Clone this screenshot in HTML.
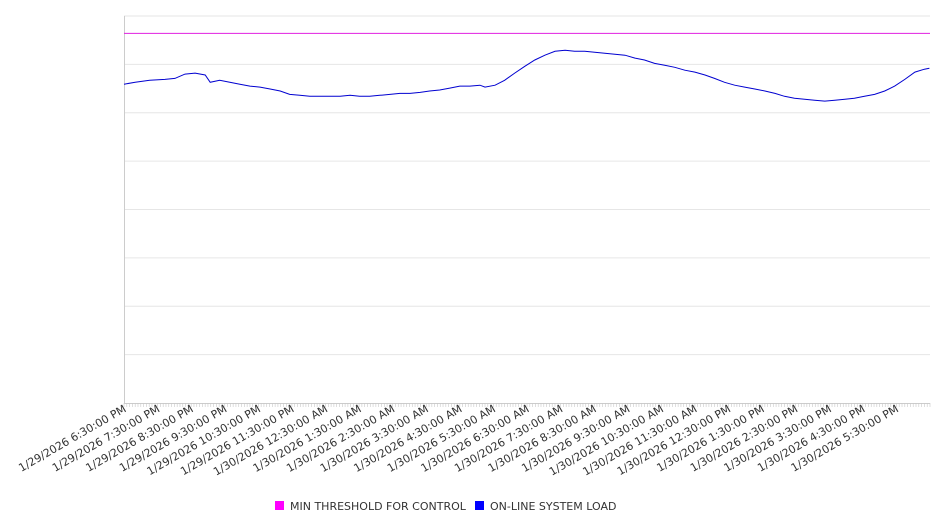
<!DOCTYPE html>
<html><head><meta charset="utf-8"><style>
html,body{margin:0;padding:0;background:#fff;width:946px;height:526px;overflow:hidden}
svg{display:block;font-family:"DejaVu Sans","Liberation Sans",sans-serif}
</style></head><body>
<svg id="chart" width="946" height="526"></svg>
<script>
const tickLabels=["1/29/2026 6:30:00 PM","1/29/2026 7:30:00 PM","1/29/2026 8:30:00 PM","1/29/2026 9:30:00 PM","1/29/2026 10:30:00 PM","1/29/2026 11:30:00 PM","1/30/2026 12:30:00 AM","1/30/2026 1:30:00 AM","1/30/2026 2:30:00 AM","1/30/2026 3:30:00 AM","1/30/2026 4:30:00 AM","1/30/2026 5:30:00 AM","1/30/2026 6:30:00 AM","1/30/2026 7:30:00 AM","1/30/2026 8:30:00 AM","1/30/2026 9:30:00 AM","1/30/2026 10:30:00 AM","1/30/2026 11:30:00 AM","1/30/2026 12:30:00 PM","1/30/2026 1:30:00 PM","1/30/2026 2:30:00 PM","1/30/2026 3:30:00 PM","1/30/2026 4:30:00 PM","1/30/2026 5:30:00 PM"];
const thresholdValue=7.64;
const loadMinutes=[0,20,46,73,91,109,127,145,154,171,189,207,225,243,261,279,296,314,332,350,368,386,404,421,439,457,475,493,511,529,546,564,582,600,618,636,645,663,680,698,716,734,752,770,788,805,823,841,859,877,895,913,930,948,966,984,1002,1020,1038,1055,1073,1091,1109,1127,1145,1163,1180,1198,1216,1234,1252,1270,1288,1305,1323,1341,1359,1377,1395,1413,1430,1439];
const loadValues=[6.59,6.63,6.67,6.69,6.71,6.80,6.82,6.78,6.63,6.67,6.63,6.59,6.55,6.53,6.49,6.45,6.38,6.36,6.34,6.34,6.34,6.34,6.36,6.34,6.34,6.36,6.38,6.40,6.40,6.42,6.45,6.47,6.51,6.55,6.55,6.57,6.53,6.57,6.67,6.82,6.96,7.09,7.19,7.27,7.29,7.27,7.27,7.25,7.23,7.21,7.19,7.13,7.09,7.02,6.98,6.94,6.88,6.84,6.78,6.71,6.63,6.57,6.53,6.49,6.45,6.40,6.34,6.30,6.28,6.26,6.24,6.26,6.28,6.30,6.34,6.38,6.45,6.55,6.69,6.84,6.90,6.92];
const yMax=8;

const NS="http://www.w3.org/2000/svg";
const svg=document.getElementById('chart');
const L=124,R=930,T=16,B=403;
const xS=m=>L+m/1440*(R-L);
const yS=v=>B-v/yMax*(B-T);
function mk(tag,attrs,parent){const e=document.createElementNS(NS,tag);for(const k in attrs)e.setAttribute(k,attrs[k]);(parent||svg).appendChild(e);return e;}

const grid=mk('g',{});


for(let i=1;i<=yMax;i++){
  const l=mk('line',{x1:L,x2:R,y1:yS(i),y2:yS(i),stroke:'#e6e6e6','stroke-width':1},grid);
  
  
}
const yax=mk('line',{x1:L+0.5,x2:L+0.5,y1:T,y2:B,stroke:'#ccc'});


const xax=mk('line',{x1:L,x2:R,y1:B+0.5,y2:B+0.5,stroke:'#ccc'});


const ticks=mk('g',{});


for(let m=0;m<=1440;m+=5){
  mk('line',{x1:xS(m),x2:xS(m),y1:B,y2:B+4,stroke:'#c8c8c8','stroke-width':0.6},ticks);
}
tickLabels.forEach((t,i)=>{
  const x=xS(i*60)+3,y=411;
  const tx=mk('text',{x:x,y:y,'text-anchor':'end','font-size':11,fill:'#333',transform:`rotate(-30 ${x} ${y})`});
  tx.textContent=t;
  
  
});
const th=mk('line',{x1:L,x2:R,y1:yS(thresholdValue),y2:yS(thresholdValue),stroke:'#e020e0','stroke-width':1});


const pts=loadMinutes.map((m,i)=>xS(m).toFixed(1)+','+yS(loadValues[i]).toFixed(1)).join(' ');
const ln=mk('polyline',{points:pts,fill:'none',stroke:'#0000d0','stroke-width':1});



const lg=mk('g',{});


const e1=mk('g',{},lg);


mk('rect',{x:275,y:501,width:9,height:9,fill:'#ff00ff'},e1);
const t1=mk('text',{x:290,y:510,'font-size':11,fill:'#333'},e1);t1.textContent='MIN THRESHOLD FOR CONTROL';
const e2=mk('g',{},lg);


mk('rect',{x:475,y:501,width:9,height:9,fill:'#0000ff'},e2);
const t2=mk('text',{x:490,y:510,'font-size':11,fill:'#333'},e2);t2.textContent='ON-LINE SYSTEM LOAD';
</script>
</body></html>
